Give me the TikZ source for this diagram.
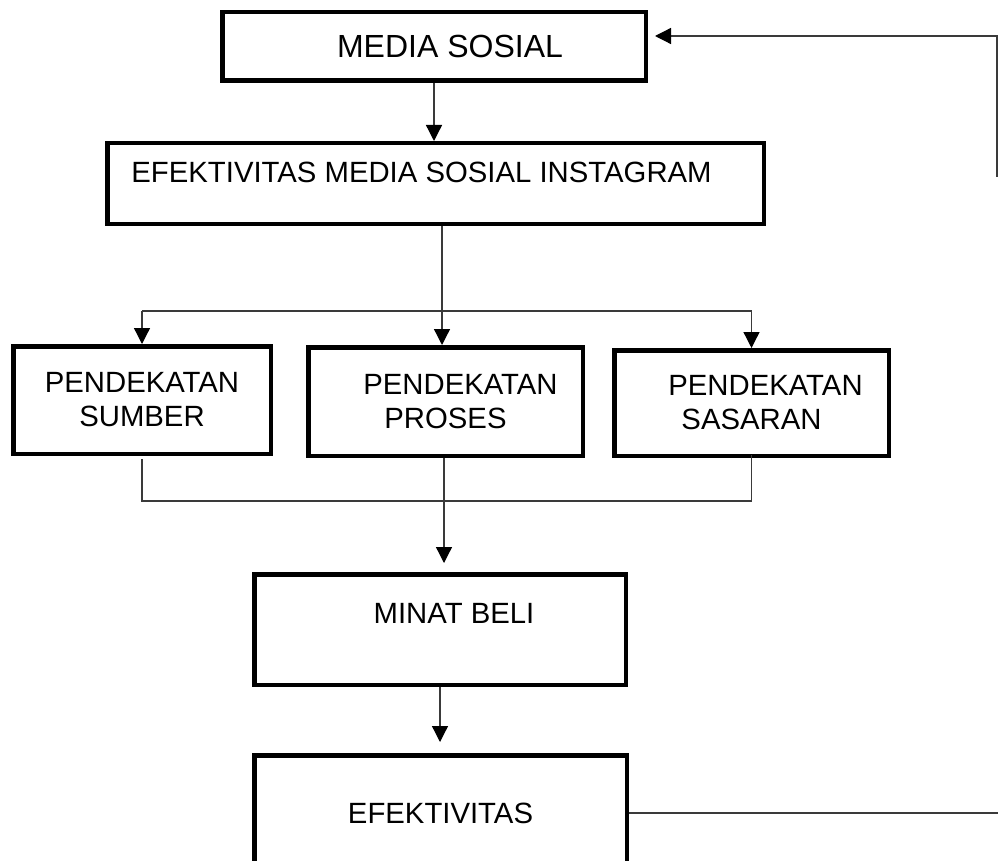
\documentclass[tikz,border=0pt]{standalone}
\usepackage{fontspec}
\setmainfont{Liberation Sans}
\usetikzlibrary{arrows.meta,calc}
\definecolor{frame}{HTML}{000000}
\definecolor{wire}{HTML}{3A3A3A}
\tikzset{
  block/.style={
    draw=frame,
    line width=4.5pt,
    fill=white,
    align=center,
    inner sep=0pt,
    font=\fontsize{29.3}{34}\selectfont
  },
  link/.style={draw=wire, line width=1.3pt},
  flow/.style={link, -{Triangle[length=16pt, width=16pt, color=black]}}
}

\begin{document}
\begin{tikzpicture}[x=1pt,y=-1pt]
\clip (0,0) rectangle (998,861);
\fill[white] (0,0) rectangle (998,861);

% top of the chain
\node[block, font=\fontsize{32}{36}\selectfont, minimum width=423.5pt, minimum height=68.5pt] (media) at (434,46.5) {\hspace*{32pt}MEDIA SOSIAL};
\node[block, text depth=22pt, minimum width=656.5pt, minimum height=80.5pt] (effig) at (435.5,183.5) {EFEKTIVITAS MEDIA SOSIAL INSTAGRAM\hspace*{28pt}};
\draw[flow] (media.south) -- (media.south |- effig.north);

% three approaches
\node[block, minimum width=257.5pt, minimum height=107.5pt] (sumber) at (142,400) {PENDEKATAN\\SUMBER};
\node[block, minimum width=274.5pt, minimum height=108.5pt] (proses) at (445.5,401.5) {\hspace*{30pt}PENDEKATAN\\PROSES};
\node[block, minimum width=274.5pt, minimum height=105.5pt] (sasaran) at (751.5,403) {\hspace*{28pt}PENDEKATAN\\SASARAN};

\coordinate (split) at (442,311);
\draw[link] (effig.south -| split) -- (split);
\draw[link] (split -| sumber) -- (split -| sasaran);
\draw[flow] (split -| sumber) -- (sumber.north);
\draw[flow] (split) -- (split |- proses.north);
\draw[flow] (split -| sasaran) -- (sasaran.north);

% outcome
\node[block, text depth=32pt, minimum width=371.5pt, minimum height=110.5pt] (minat) at (440,629.5) {\hspace*{28pt}MINAT BELI};
\node[block, minimum width=372.5pt, minimum height=115.5pt] (eff) at (440.5,813) {EFEKTIVITAS};

\coordinate (merge) at (444,501);
\draw[link, shorten <=3pt] (sumber.south) -- (sumber.south |- merge) -- (sasaran.south |- merge) -- ([yshift=3pt]sasaran.south);
\draw[flow, shorten >=9pt] (proses.south -| merge) -- (merge |- minat.north);
\draw[flow, shorten >=11pt] (minat.south) -- (minat.south |- eff.north);

% feedback
\coordinate (fbtop) at (997,36);
\coordinate (fblow) at (997,177);
\coordinate (fbend) at (1000,813);
\draw[link] (eff.east) -- (fbend);
\draw[flow] (fblow) -- (fbtop) -- ([xshift=7pt]media.east |- fbtop);
\end{tikzpicture}
\end{document}
